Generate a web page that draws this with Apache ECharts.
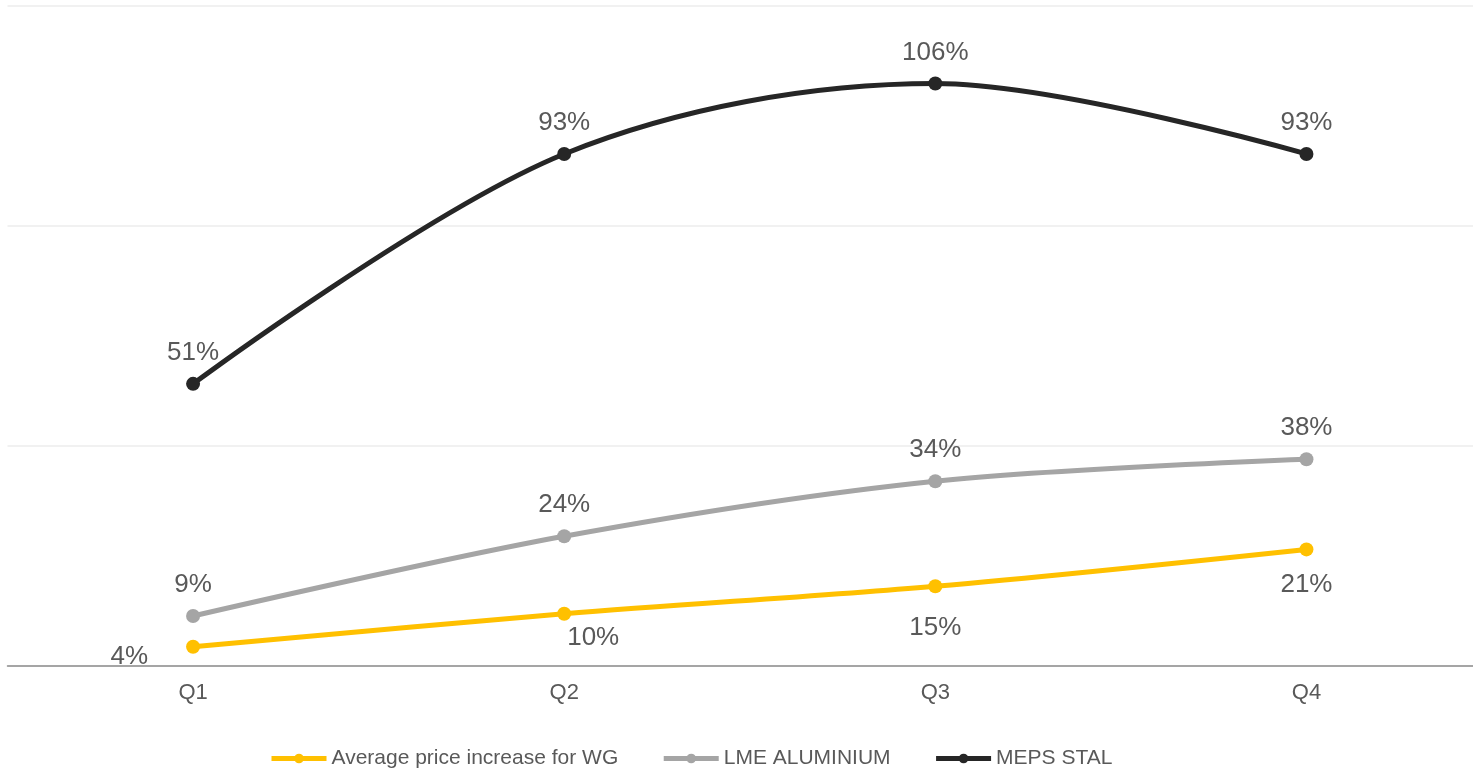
<!DOCTYPE html>
<html>
<head>
<meta charset="utf-8">
<script src="https://cdn.jsdelivr.net/npm/echarts@6/dist/echarts.min.js"></script>
<style>
  html, body { margin: 0; padding: 0; background: #fff; overflow: hidden; }
  #chart { width: 1492px; height: 768px; }
</style>
</head>
<body>
<div id="chart"></div>
<script>
const quarters = ["Q1", "Q2", "Q3", "Q4"];
const wgIncrease = [3.5, 9.5, 14.5, 21.2];
const lmeAluminium = [9.1, 23.6, 33.6, 37.6];
const mepsStal = [51.3, 93.1, 105.9, 93.1];
const seriesNames = ["Average price increase for WG", "LME ALUMINIUM", "MEPS STAL"];

const textColor = "#595959";
const font = "Liberation Sans, Arial";
const pct = p => Math.round(p.value) + "%";

// yellow labels sit below the line, first one off to the left
const wgLabels = [
  { position: "left", distance: 38, offset: [0, 10] },
  { position: "bottom", distance: 4, offset: [29, 0] },
  { position: "bottom", distance: 22 },
  { position: "bottom", distance: 15 }
];

const chart = echarts.init(document.getElementById("chart"));

function lineSeries(name, data, color) {
  return {
    name: name,
    type: "line",
    smooth: 0.33,
    symbol: "circle",
    symbolSize: 14,
    lineStyle: { width: 5, color: color },
    itemStyle: { color: color },
    label: {
      show: true,
      position: "top",
      distance: 11,
      color: textColor,
      fontSize: 26,
      fontFamily: font,
      formatter: pct
    },
    data: data
  };
}

const option = {
  animation: false,
  grid: { left: 7.5, right: 0, top: 6, bottom: 102 },
  legend: {
    left: 269,
    top: 748,
    padding: 0,
    itemWidth: 55,
    itemHeight: 12,
    itemGap: 43,
    lineStyle: { width: 5 },
    textStyle: { color: textColor, fontSize: 21, fontFamily: font },
    data: seriesNames
  },
  xAxis: {
    type: "category",
    data: quarters,
    axisTick: { show: false },
    axisLine: { lineStyle: { color: "#8c8c8c", width: 1.5 } },
    axisLabel: { color: textColor, fontSize: 22, margin: 16, fontFamily: font }
  },
  yAxis: {
    type: "value",
    min: 0,
    max: 120,
    interval: 40,
    axisLabel: { show: false },
    axisLine: { show: false },
    axisTick: { show: false },
    splitLine: { lineStyle: { color: "#ececec", width: 1.5 } }
  },
  series: [
    lineSeries(seriesNames[0], wgIncrease.map((v, i) => ({ value: v, label: wgLabels[i] })), "#FFC000"),
    lineSeries(seriesNames[1], lmeAluminium, "#A5A5A5"),
    lineSeries(seriesNames[2], mepsStal, "#262626")
  ]
};

chart.setOption(option);
</script>
</body>
</html>
